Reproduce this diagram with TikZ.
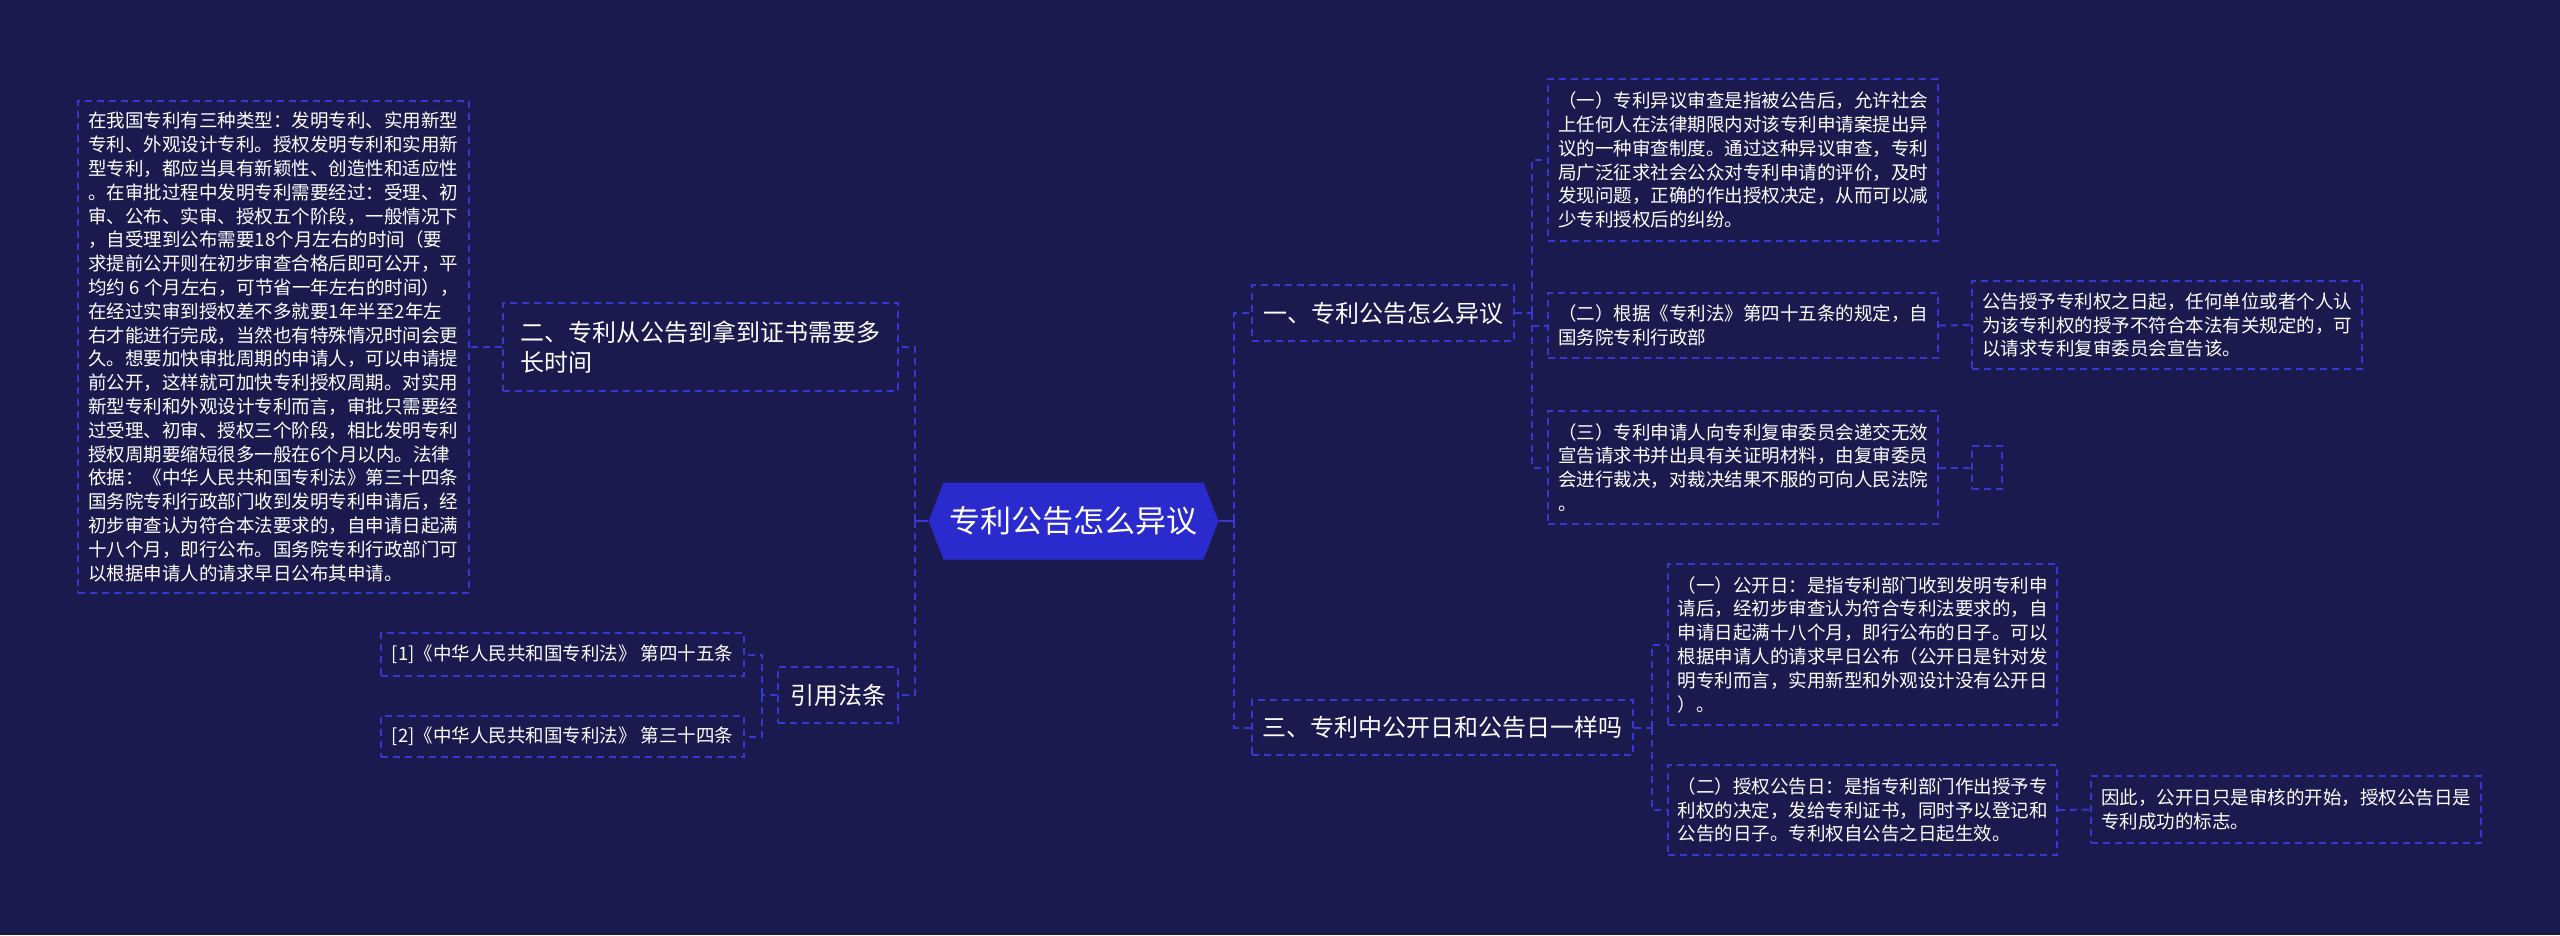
\documentclass[tikz,border=0pt]{standalone}
\usepackage{fontspec}
\setmainfont{Noto Sans CJK SC}
\usetikzlibrary{calc}
\definecolor{bgc}{RGB}{26,26,78}
\definecolor{linec}{RGB}{56,56,208}
\definecolor{rootc}{RGB}{42,42,205}
\tikzset{
  conn/.style={draw=linec, line width=2pt, dash pattern=on 7pt off 5pt},
  solidconn/.style={draw=linec, line width=2pt},
  lbox/.style={draw=linec, line width=1.5pt, dash pattern=on 7pt off 5pt, text=white, inner sep=0pt, align=left, font=\fontsize{18.5pt}{23.8pt}\selectfont},
  tbox/.style={lbox, font=\fontsize{24pt}{30pt}\selectfont},
  roottext/.style={text=white, inner sep=0pt, minimum width=290pt, minimum height=77pt, font=\fontsize{31pt}{36pt}\selectfont},
}
\begin{document}
\begin{tikzpicture}[x=1pt,y=-1pt]
\useasboundingbox (0,0) rectangle (2560,935);
\fill[bgc] (0,0) rectangle (2560,935);

% root hexagon
\coordinate (rc) at (1073.5,521);
\fill[rootc] ($(rc)+(-145,0)$) -- ($(rc)+(-130,-38.5)$) -- ($(rc)+(130,-38.5)$) -- ($(rc)+(145,0)$) -- ($(rc)+(130,38.5)$) -- ($(rc)+(-130,38.5)$) -- cycle;
\node[roottext] (root) at (rc) {专利公告怎么异议};

% left side
\node[lbox, minimum width=391pt, minimum height=492pt] (lt) at (273.5,347) {在我国专利有三种类型：发明专利、实用新型\\专利、外观设计专利。授权发明专利和实用新\\型专利，都应当具有新颖性、创造性和适应性\\。在审批过程中发明专利需要经过：受理、初\\审、公布、实审、授权五个阶段，一般情况下\\，自受理到公布需要18个月左右的时间（要\\求提前公开则在初步审查合格后即可公开，平\\均约 6 个月左右，可节省一年左右的时间），\\在经过实审到授权差不多就要1年半至2年左\\右才能进行完成，当然也有特殊情况时间会更\\久。想要加快审批周期的申请人，可以申请提\\前公开，这样就可加快专利授权周期。对实用\\新型专利和外观设计专利而言，审批只需要经\\过受理、初审、授权三个阶段，相比发明专利\\授权周期要缩短很多一般在6个月以内。法律\\依据：《中华人民共和国专利法》第三十四条\\国务院专利行政部门收到发明专利申请后，经\\初步审查认为符合本法要求的，自申请日起满\\十八个月，即行公布。国务院专利行政部门可\\以根据申请人的请求早日公布其申请。};
\node[tbox, minimum width=395pt, minimum height=88pt] (two) at (700.5,347) {二、专利从公告到拿到证书需要多\\长时间};
\node[lbox, minimum width=363pt, minimum height=43pt] (ref1) at (562.5,654.5) {[1]《中华人民共和国专利法》 第四十五条};
\node[lbox, minimum width=363pt, minimum height=41pt] (ref2) at (562.5,736.5) {[2]《中华人民共和国专利法》 第三十四条};
\node[tbox, minimum width=120pt, minimum height=56pt] (cite) at (838,695) {引用法条};

% right side
\node[tbox, minimum width=262pt, minimum height=56pt] (one) at (1383,313) {一、专利公告怎么异议};
\node[tbox, minimum width=381pt, minimum height=55pt] (three) at (1442.5,727.5) {三、专利中公开日和公告日一样吗};

\node[lbox, minimum width=390pt, minimum height=162pt] (c11) at (1743,160) {（一）专利异议审查是指被公告后，允许社会\\上任何人在法律期限内对该专利申请案提出异\\议的一种审查制度。通过这种异议审查，专利\\局广泛征求社会公众对专利申请的评价，及时\\发现问题，正确的作出授权决定，从而可以减\\少专利授权后的纠纷。};
\node[lbox, minimum width=390pt, minimum height=65pt] (c12) at (1743,325.5) {（二）根据《专利法》第四十五条的规定，自\\国务院专利行政部};
\node[lbox, minimum width=390pt, minimum height=88pt] (c121) at (2167,325) {公告授予专利权之日起，任何单位或者个人认\\为该专利权的授予不符合本法有关规定的，可\\以请求专利复审委员会宣告该。};
\node[lbox, minimum width=390pt, minimum height=113pt] (c13) at (1743,467.5) {（三）专利申请人向专利复审委员会递交无效\\宣告请求书并出具有关证明材料，由复审委员\\会进行裁决，对裁决结果不服的可向人民法院\\。};
\node[lbox, minimum width=30pt, minimum height=43pt] (c131) at (1987,467.5) {};

\node[lbox, minimum width=389pt, minimum height=161pt] (c31) at (1862.5,644.5) {（一）公开日：是指专利部门收到发明专利申\\请后，经初步审查认为符合专利法要求的，自\\申请日起满十八个月，即行公布的日子。可以\\根据申请人的请求早日公布（公开日是针对发\\明专利而言，实用新型和外观设计没有公开日\\）。};
\node[lbox, minimum width=389pt, minimum height=90pt] (c32) at (1862.5,810) {（二）授权公告日：是指专利部门作出授予专\\利权的决定，发给专利证书，同时予以登记和\\公告的日子。专利权自公告之日起生效。};
\node[lbox, minimum width=390pt, minimum height=67pt] (c321) at (2286,809.5) {因此，公开日只是审核的开始，授权公告日是\\专利成功的标志。};

% connectors
\coordinate (lb) at (915,521);
\coordinate (rb) at (1234,521);
\coordinate (cb) at (762,695);
\coordinate (b1) at (1532,313);
\coordinate (b3) at (1652,727.5);

\draw[solidconn] (root.west) -- (lb);
\draw[conn] (lb) |- (two.east);
\draw[conn] (lb) |- (cite.east);
\draw[conn] (two.west) -- (lt.east);
\draw[conn] (cite.west) -- (cb);
\draw[conn] (cb) |- (ref1.east);
\draw[conn] (cb) |- (ref2.east);

\draw[solidconn] (root.east) -- (rb);
\draw[conn] (rb) |- (one.west);
\draw[conn] (rb) |- (three.west);
\draw[conn] (one.east) -- (b1);
\draw[conn] (b1) |- (c11.west);
\draw[conn] (b1) |- (c12.west);
\draw[conn] (b1) |- (c13.west);
\draw[conn] (c12.east) -- (c121.west);
\draw[conn] (c13.east) -- (c131.west);
\draw[conn] (three.east) -- (b3);
\draw[conn] (b3) |- (c31.west);
\draw[conn] (b3) |- (c32.west);
\draw[conn] (c32.east) -- (c321.west);
\end{tikzpicture}
\end{document}
